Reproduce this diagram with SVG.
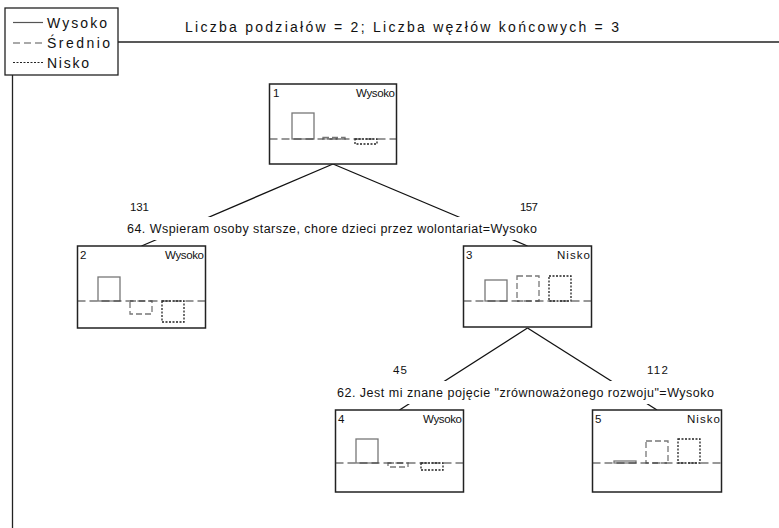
<svg xmlns="http://www.w3.org/2000/svg" width="779" height="528" viewBox="0 0 779 528">
<style>
text{font-family:"Liberation Sans",Arial,sans-serif;fill:#111}
.lg{font-size:14px}
.t{font-size:11.5px}
.s{font-size:12.5px}
.box{fill:#fff;stroke:#222;stroke-width:1.5}
.base{stroke:#333;stroke-width:1.2;stroke-dasharray:8,4;fill:none}
.b1{fill:none;stroke:#777;stroke-width:1.3}
.b2{fill:none;stroke:#777;stroke-width:1.3;stroke-dasharray:6,3}
.b3{fill:none;stroke:#222;stroke-width:1.3;stroke-dasharray:2,1.5}
.edge{stroke:#111;stroke-width:1.3;fill:none}
.frame{stroke:#222;stroke-width:1.3;fill:none}
</style>
<rect width="779" height="528" fill="#fff"/>
<g id="frame">
<line class="frame" x1="118" y1="42" x2="779" y2="42"/>
<line class="frame" x1="12.5" y1="75" x2="12.5" y2="528"/>
</g>
<g id="legend">
<rect x="5" y="8" width="113" height="67" fill="#fff" stroke="#222" stroke-width="1.3"/>
<line x1="13" y1="22.5" x2="43" y2="22.5" stroke="#555" stroke-width="1.2"/>
<line x1="13" y1="43" x2="45" y2="43" stroke="#555" stroke-width="1.2" stroke-dasharray="7,4"/>
<line x1="13" y1="62.5" x2="43" y2="62.5" stroke="#222" stroke-width="1.2" stroke-dasharray="2,1.5"/>
<text class="lg" x="47" y="27.5" textLength="60" lengthAdjust="spacing">Wysoko</text>
<text class="lg" x="47" y="48" textLength="63" lengthAdjust="spacing">Średnio</text>
<text class="lg" x="47" y="67.5" textLength="42" lengthAdjust="spacing">Nisko</text>
</g>
<text id="title" class="lg" x="185" y="32" textLength="434" lengthAdjust="spacing">Liczba podziałów = 2; Liczba węzłów końcowych =  3</text>
<g id="connectors">
<line class="edge" x1="333" y1="164" x2="141.5" y2="246"/>
<line class="edge" x1="333" y1="164" x2="527.5" y2="246"/>
<line class="edge" x1="527.5" y1="328" x2="399.5" y2="410"/>
<line class="edge" x1="527.5" y1="328" x2="657" y2="410"/>
<rect x="125" y="217" width="416" height="23" fill="#fff"/>
<rect x="334" y="381" width="384" height="23" fill="#fff"/>
<text class="t" x="130" y="211" textLength="19" lengthAdjust="spacing">131</text>
<text class="t" x="520" y="211" textLength="18" lengthAdjust="spacing">157</text>
<text class="s" x="127" y="233" textLength="410" lengthAdjust="spacing">64. Wspieram osoby starsze, chore dzieci przez wolontariat=Wysoko</text>
<text class="t" x="393" y="374" textLength="14" lengthAdjust="spacing">45</text>
<text class="t" x="647" y="374" textLength="21" lengthAdjust="spacing">112</text>
<text class="s" x="337" y="397" textLength="377" lengthAdjust="spacing">62. Jest mi znane pojęcie "zrównoważonego rozwoju"=Wysoko</text>
</g>
<g id="node1">
<rect class="box" x="269.5" y="84" width="127" height="80"/>
<text class="t" x="273" y="97">1</text>
<text class="t" x="395" y="97" text-anchor="end" textLength="39" lengthAdjust="spacing">Wysoko</text>
<rect class="b1" x="292" y="113" width="22" height="26"/>
<rect class="b2" x="323" y="137.5" width="22" height="1.5"/>
<rect class="b3" x="355" y="139" width="22" height="5"/>
<line class="base" x1="269.5" y1="139" x2="396.5" y2="139"/>
</g>
<g id="node2">
<rect class="box" x="77.5" y="246" width="128" height="82"/>
<text class="t" x="80" y="259">2</text>
<text class="t" x="204" y="259" text-anchor="end" textLength="39" lengthAdjust="spacing">Wysoko</text>
<rect class="b1" x="98" y="277" width="22" height="24"/>
<rect class="b2" x="130" y="301" width="22" height="13"/>
<rect class="b3" x="162" y="301" width="22" height="21"/>
<line class="base" x1="77.5" y1="301" x2="205.5" y2="301"/>
</g>
<g id="node3">
<rect class="box" x="463.5" y="246" width="128" height="81"/>
<text class="t" x="466" y="259">3</text>
<text class="t" x="590" y="259" text-anchor="end" textLength="33" lengthAdjust="spacing">Nisko</text>
<rect class="b1" x="485" y="280" width="22" height="21"/>
<rect class="b2" x="517" y="276" width="22" height="25"/>
<rect class="b3" x="549" y="276" width="22" height="25"/>
<line class="base" x1="463.5" y1="301" x2="591.5" y2="301"/>
</g>
<g id="node4">
<rect class="box" x="335.5" y="410" width="128" height="82"/>
<text class="t" x="338" y="423">4</text>
<text class="t" x="462" y="423" text-anchor="end" textLength="39" lengthAdjust="spacing">Wysoko</text>
<rect class="b1" x="356" y="439" width="22" height="24"/>
<rect class="b2" x="388" y="463" width="20" height="4"/>
<rect class="b3" x="421" y="463" width="22" height="7"/>
<line class="base" x1="335.5" y1="463" x2="463.5" y2="463"/>
</g>
<g id="node5">
<rect class="box" x="592.5" y="410" width="129" height="82"/>
<text class="t" x="595" y="423">5</text>
<text class="t" x="720" y="423" text-anchor="end" textLength="33" lengthAdjust="spacing">Nisko</text>
<rect class="b1" x="614" y="461" width="22" height="2" fill="#999"/>
<rect class="b2" x="646" y="441" width="22" height="22"/>
<rect class="b3" x="678" y="439" width="22" height="24"/>
<line class="base" x1="592.5" y1="463" x2="721.5" y2="463"/>
</g>
</svg>
